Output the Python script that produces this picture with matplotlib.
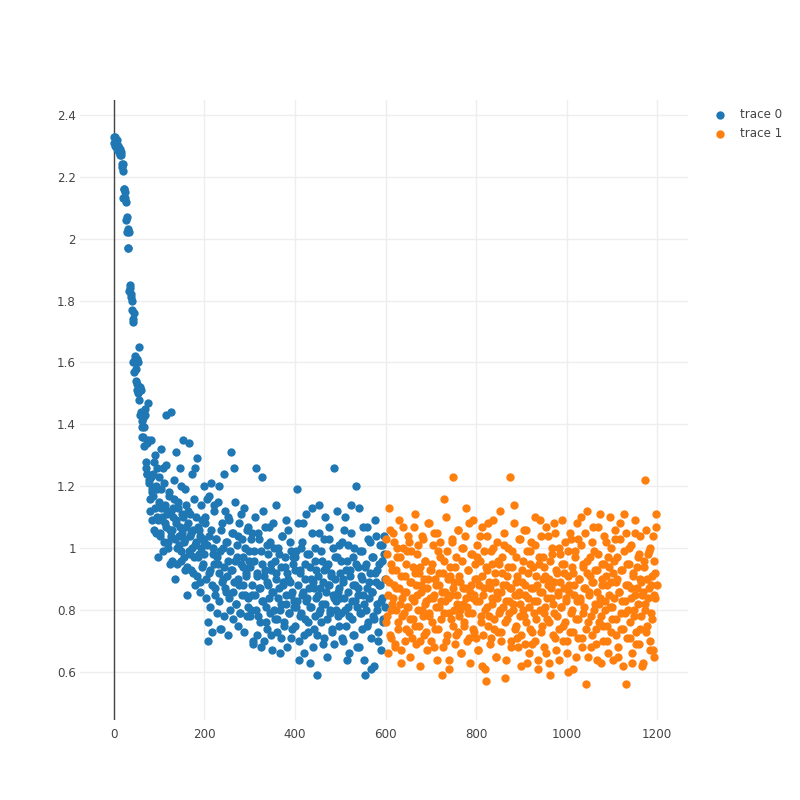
import numpy as np
import matplotlib.pyplot as plt

plt.rcParams['font.family'] = ['DejaVu Sans']

# trace 0, even x = 0..598
trace0_y_even = [
    2.31, 2.33, 2.30, 2.32, 2.29, 2.30, 2.28, 2.29, 2.27, 2.24,
    2.22, 2.16, 2.15, 2.12, 2.07, 2.03, 1.97, 2.02, 1.84, 1.82,
    1.80, 1.74, 1.76, 1.62, 1.58, 1.53, 1.61, 1.50, 1.65, 1.52,
    1.44, 1.36, 1.42, 1.39, 1.45, 1.28, 1.34, 1.24, 1.47, 1.22,
    1.12, 1.35, 1.18, 1.24, 1.06, 1.30, 1.20, 1.10, 1.26, 0.97,
    1.15, 1.05, 1.32, 1.10, 0.99, 1.21, 1.08, 1.27, 1.43, 1.12,
    1.02, 1.18, 0.95, 1.44, 1.06, 1.13, 1.22, 0.90, 1.09, 1.31,
    1.00, 1.15, 1.04, 1.26, 0.96, 1.11, 1.35, 1.02, 0.93, 1.19,
    1.07, 0.85, 1.12, 1.34, 0.98, 1.05, 1.24, 0.92, 1.16, 1.01,
    0.88, 1.10, 1.29, 0.97, 1.06, 0.86, 1.14, 0.94, 1.03, 1.20,
    0.98, 1.08, 0.90, 1.16, 0.70, 1.04, 0.93, 1.21, 0.88, 1.00,
    0.95, 1.12, 0.85, 1.03, 0.97, 1.15, 0.92, 0.74, 1.06, 0.89,
    1.00, 0.94, 1.24, 0.87, 1.02, 0.91, 1.10, 0.84, 0.99, 1.31,
    0.93, 1.05, 0.86, 1.26, 0.96, 0.82, 1.01, 0.90, 1.08, 0.79,
    0.95, 1.03, 0.88, 0.97, 1.13, 0.85, 0.92, 1.06, 0.81, 0.99,
    0.94, 0.80, 1.05, 0.88, 0.70, 0.99, 0.85, 1.26, 0.92, 0.78,
    1.03, 0.87, 0.68, 0.95, 1.23, 0.83, 0.91, 1.07, 0.76, 0.89,
    0.98, 0.84, 1.02, 0.72, 0.93, 0.86, 1.08, 0.80, 0.96, 0.90,
    0.77, 1.00, 0.87, 0.66, 0.94, 0.82, 1.04, 0.88, 0.75, 0.97,
    0.85, 0.92, 1.06, 0.79, 0.89, 0.99, 0.71, 0.86, 0.95, 0.83,
    0.97, 0.81, 1.19, 0.88, 0.64, 0.93, 0.78, 1.00, 0.85, 1.08,
    0.72, 0.90, 0.83, 0.98, 0.76, 0.87, 0.63, 0.94, 0.81, 1.13,
    0.89, 0.74, 0.96, 0.84, 0.59, 0.91, 1.05, 0.79, 0.87, 0.99,
    0.82, 0.69, 0.93, 1.10, 0.86, 0.77, 0.95, 0.88, 1.03, 0.80,
    0.92, 0.73, 0.85, 1.26, 0.90, 0.83, 0.97, 0.78, 1.01, 0.87,
    0.84, 0.96, 0.71, 0.89, 1.06, 0.80, 0.93, 0.64, 0.86, 1.01,
    0.78, 0.91, 1.14, 0.83, 0.97, 0.72, 0.88, 1.20, 0.81, 0.94,
    0.85, 0.68, 0.99, 0.79, 0.90, 1.07, 0.82, 0.59, 0.95, 0.87,
    0.75, 1.03, 0.84, 0.92, 0.61, 0.86, 0.97, 0.77, 1.09, 0.89,
    0.80, 0.93, 0.70, 0.88, 1.01, 0.83, 0.96, 0.76, 1.04, 0.90,
]

# trace 0, odd x = 1..599
trace0_y_odd = [
    2.33, 2.30, 2.31, 2.29, 2.30, 2.28, 2.27, 2.28, 2.23, 2.24,
    2.13, 2.16, 2.13, 2.06, 2.02, 1.97, 1.83, 1.85, 1.81, 1.77,
    1.73, 1.60, 1.57, 1.61, 1.54, 1.51, 1.60, 1.48, 1.43, 1.51,
    1.39, 1.41, 1.36, 1.33, 1.43, 1.26, 1.24, 1.35, 1.21, 1.16,
    1.23, 1.19, 1.09, 1.17, 1.28, 1.13, 1.05, 1.19, 1.09, 1.23,
    1.04, 1.19, 1.13, 1.09, 1.26, 1.02, 1.14, 1.07, 1.11, 1.00,
    1.17, 1.06, 1.12, 1.04, 0.96, 1.10, 1.16, 1.03, 1.08, 0.95,
    1.13, 1.01, 1.07, 1.20, 0.99, 1.05, 1.10, 0.97, 1.03, 1.14,
    0.94, 1.08, 0.99, 1.04, 1.11, 0.93, 1.00, 1.06, 0.97, 1.26,
    1.02, 0.91, 1.07, 0.98, 1.04, 0.89, 1.00, 1.09, 0.95, 1.02,
    1.10, 0.84, 1.01, 0.76, 1.17, 0.92, 0.81, 1.06, 0.73, 0.98,
    1.14, 0.87, 1.03, 0.79, 0.95, 1.20, 0.83, 0.99, 0.74, 1.08,
    0.90, 0.78, 1.12, 0.86, 1.02, 0.72, 0.96, 1.09, 0.80, 0.93,
    1.05, 0.77, 0.89, 1.15, 0.82, 0.97, 0.75, 1.04, 0.88, 0.79,
    1.11, 0.85, 0.94, 0.73, 1.00, 0.91, 0.78, 1.07, 0.84, 0.96,
    0.78, 1.03, 0.85, 0.69, 0.96, 1.10, 0.80, 0.91, 0.72, 1.05,
    0.87, 0.76, 0.99, 0.83, 1.12, 0.70, 0.93, 0.81, 1.01, 0.74,
    0.88, 1.07, 0.79, 0.95, 0.67, 0.86, 1.00, 0.77, 0.92, 1.14,
    0.73, 0.84, 0.98, 0.80, 0.71, 1.04, 0.89, 0.76, 0.94, 0.82,
    1.09, 0.68, 0.90, 0.79, 1.02, 0.85, 0.74, 0.97, 0.81, 0.93,
    0.75, 0.99, 0.83, 1.08, 0.70, 0.92, 0.79, 1.02, 0.86, 0.66,
    0.95, 0.77, 1.11, 0.84, 0.73, 0.98, 0.81, 0.90, 1.05, 0.68,
    0.87, 0.78, 1.00, 0.93, 0.72, 0.85, 1.14, 0.80, 0.76, 0.96,
    0.89, 0.71, 1.03, 0.82, 0.94, 0.65, 0.88, 1.07, 0.79, 0.91,
    0.74, 1.00, 0.84, 0.69, 0.97, 0.80, 1.12, 0.86, 0.75, 0.92,
    0.79, 1.02, 0.70, 0.90, 0.84, 1.10, 0.75, 0.96, 0.81, 0.66,
    0.93, 1.05, 0.77, 0.88, 0.72, 1.00, 0.83, 0.95, 0.68, 0.87,
    1.13, 0.79, 0.91, 0.74, 0.99, 0.85, 0.64, 0.94, 0.80, 1.07,
    0.76, 0.89, 1.02, 0.71, 0.86, 0.97, 0.78, 0.62, 0.92, 1.04,
    0.82, 0.73, 0.95, 0.88, 0.67, 1.01, 0.84, 0.77, 0.98, 0.81,
]

# trace 1, even x = 600..1198
trace1_y_even = [
    0.90, 1.03, 0.78, 0.85, 1.13, 0.72, 0.95, 0.82, 1.05, 0.88,
    0.69, 0.93, 0.80, 1.00, 0.76, 0.87, 0.97, 0.67, 0.84, 1.07,
    0.79, 0.91, 0.74, 0.86, 0.99, 0.81, 1.02, 0.77, 0.89, 0.71,
    0.94, 0.83, 1.11, 0.75, 0.88, 0.98, 0.80, 0.92, 0.70, 0.86,
    1.04, 0.78, 0.90, 0.82, 0.96, 0.73, 0.87, 1.08, 0.79, 0.84,
    0.93, 0.76, 1.01, 0.85, 0.68, 0.90, 0.81, 1.05, 0.74, 0.88,
    0.97, 0.83, 0.59, 0.92, 1.16, 0.79, 0.86, 0.70, 0.99, 0.84,
    0.64, 0.91, 0.77, 1.02, 0.87, 1.23, 0.80, 0.94, 0.72, 0.85,
    1.06, 0.78, 0.89, 0.66, 0.96, 0.82, 1.00, 0.75, 0.87, 1.13,
    0.81, 0.93, 0.71, 0.86, 0.98, 0.79, 1.09, 0.84, 0.73, 0.90,
    0.83, 0.97, 0.67, 0.88, 1.04, 0.76, 0.91, 0.62, 0.85, 0.99,
    0.80, 0.57, 0.93, 1.08, 0.78, 0.87, 0.71, 0.95, 0.82, 1.00,
    0.74, 0.89, 0.65, 0.84, 0.96, 0.79, 1.12, 0.86, 0.73, 0.92,
    0.81, 1.01, 0.58, 0.88, 0.77, 0.94, 0.83, 1.23, 0.70, 0.87,
    0.99, 0.80, 1.14, 0.85, 0.75, 0.91, 0.68, 0.86, 1.03, 0.82,
    0.72, 0.89, 0.96, 0.78, 0.85, 1.06, 0.63, 0.92, 0.81, 0.99,
    0.74, 0.87, 0.69, 0.94, 0.83, 1.01, 0.77, 0.88, 0.61, 0.95,
    0.80, 1.09, 0.73, 0.86, 0.97, 0.79, 0.91, 0.66, 0.84, 1.04,
    0.76, 0.90, 0.59, 0.87, 0.98, 0.82, 1.08, 0.71, 0.93, 0.78,
    0.86, 1.00, 0.64, 0.89, 0.81, 0.95, 0.75, 0.92, 1.02, 0.84,
    0.70, 0.91, 0.60, 0.86, 1.05, 0.79, 0.94, 0.73, 0.88, 0.99,
    0.65, 0.83, 1.03, 0.77, 0.90, 0.84, 1.10, 0.71, 0.95, 0.81,
    0.87, 0.56, 0.92, 1.12, 0.76, 0.85, 0.97, 0.68, 0.89, 1.07,
    0.80, 0.93, 0.74, 0.86, 0.64, 0.98, 0.82, 1.11, 0.78, 0.90,
    0.70, 0.95, 0.83, 1.02, 0.75, 0.88, 0.66, 0.94, 0.81, 1.00,
    0.77, 0.92, 0.84, 1.06, 0.72, 0.89, 0.97, 0.65, 0.86, 1.03,
    0.79, 0.93, 0.74, 1.11, 0.83, 0.88, 0.56, 0.95, 0.80, 1.00,
    0.71, 0.87, 0.63, 0.91, 0.78, 1.05, 0.85, 0.69, 0.94, 0.82,
    0.98, 0.74, 0.89, 0.62, 0.86, 0.96, 0.80, 1.22, 0.73, 0.90,
    0.84, 0.99, 0.67, 0.88, 0.77, 1.04, 0.85, 0.65, 0.92, 1.11,
]

# trace 1, odd x = 601..1199
trace1_y_odd = [
    0.76, 0.98, 0.66, 0.89, 1.06, 0.80, 0.71, 0.93, 0.84, 1.02,
    0.68, 0.87, 0.97, 0.74, 1.09, 0.82, 0.63, 0.91, 0.78, 1.00,
    0.86, 0.70, 0.95, 0.81, 1.04, 0.73, 0.89, 0.65, 0.99, 0.84,
    0.77, 1.07, 0.92, 0.69, 0.85, 1.01, 0.75, 0.94, 0.62, 0.88,
    0.80, 1.03, 0.72, 0.96, 0.83, 0.67, 0.90, 1.08, 0.78, 0.93,
    0.70, 0.95, 0.84, 1.05, 0.74, 0.88, 0.64, 0.99, 0.81, 0.92,
    1.02, 0.77, 0.86, 0.68, 0.96, 0.83, 1.10, 0.72, 0.90, 0.79,
    0.61, 0.94, 0.85, 1.03, 0.75, 0.89, 0.69, 0.97, 0.82, 1.06,
    0.73, 0.91, 0.80, 0.66, 1.00, 0.87, 0.76, 1.04, 0.84, 0.70,
    0.93, 0.79, 1.08, 0.63, 0.88, 0.98, 0.74, 0.85, 0.95, 0.71,
    0.90, 1.01, 0.67, 0.83, 0.96, 0.78, 1.07, 0.72, 0.87, 0.61,
    0.94, 0.81, 1.04, 0.75, 0.89, 0.69, 0.99, 0.84, 1.09, 0.77,
    0.92, 0.65, 0.86, 1.02, 0.73, 0.95, 0.80, 0.70, 0.97, 0.88,
    1.05, 0.76, 0.83, 0.64, 0.91, 1.00, 0.79, 0.87, 0.68, 0.94,
    0.82, 1.08, 0.74, 0.89, 0.97, 0.71, 0.85, 1.03, 0.78, 0.62,
    0.93, 0.80, 1.06, 0.69, 0.88, 0.76, 0.99, 0.84, 0.66, 0.95,
    1.02, 0.73, 0.87, 0.79, 1.10, 0.70, 0.91, 0.83, 0.64, 0.97,
    0.86, 1.04, 0.75, 0.90, 0.68, 0.94, 0.81, 1.07, 0.77, 0.88,
    0.63, 0.96, 0.84, 1.00, 0.72, 0.89, 0.79, 1.05, 0.67, 0.92,
    0.85, 0.74, 0.98, 0.81, 1.09, 0.70, 0.87, 0.95, 0.76, 0.83,
    0.66, 0.99, 0.88, 0.73, 1.03, 0.80, 0.92, 0.61, 0.85, 0.97,
    0.77, 1.08, 0.71, 0.90, 0.83, 1.01, 0.68, 0.94, 0.79, 0.87,
    1.05, 0.74, 0.96, 0.65, 0.86, 0.91, 0.78, 1.02, 0.72, 0.89,
    0.99, 0.82, 0.69, 0.93, 1.07, 0.76, 0.84, 0.63, 0.95, 0.88,
    0.75, 1.04, 0.80, 0.91, 0.70, 0.97, 0.85, 1.10, 0.73, 0.89,
    0.81, 0.64, 0.96, 1.03, 0.77, 0.90, 0.68, 0.86, 1.08, 0.74,
    0.93, 0.83, 0.62, 0.99, 0.79, 1.05, 0.71, 0.88, 0.95, 0.76,
    1.01, 0.84, 0.66, 0.92, 0.80, 1.09, 0.73, 0.87, 0.97, 0.69,
    0.90, 1.04, 0.78, 0.85, 0.63, 0.94, 0.82, 1.06, 0.75, 0.98,
    0.87, 0.70, 1.00, 0.79, 0.91, 0.67, 0.96, 0.84, 1.07, 0.88,
]

trace0_x = np.concatenate([np.arange(0, 600, 2), np.arange(1, 600, 2)])
trace0_y = trace0_y_even + trace0_y_odd
trace1_x = np.concatenate([np.arange(600, 1200, 2), np.arange(601, 1200, 2)])
trace1_y = trace1_y_even + trace1_y_odd

x_ticks = [0, 200, 400, 600, 800, 1000, 1200]
y_ticks = [0.6, 0.8, 1, 1.2, 1.4, 1.6, 1.8, 2, 2.2, 2.4]
y_labels = ['0.6', '0.8', '1', '1.2', '1.4', '1.6', '1.8', '2', '2.2', '2.4']

fig = plt.figure(figsize=(8, 8), dpi=100)
ax = fig.add_axes([0.1, 0.1, 0.76, 0.775])

ax.scatter(trace0_x, trace0_y, s=36, color='#1f77b4', linewidths=0, zorder=3, label='trace 0')
ax.scatter(trace1_x, trace1_y, s=36, color='#ff7f0e', linewidths=0, zorder=3, label='trace 1')

# plotly style zero line
ax.axvline(0, color='#444444', lw=1, zorder=2)

ax.set_xlim(-75, 1268)
ax.set_ylim(0.445, 2.448)
ax.set_xticks(x_ticks)
ax.set_yticks(y_ticks)
ax.set_yticklabels(y_labels)
ax.grid(True, color='#eeeeee', lw=1, zorder=0)
ax.set_axisbelow(True)
for s in ax.spines.values():
    s.set_visible(False)
ax.tick_params(length=0, labelsize=8.6, labelcolor='#444444')
ax.tick_params(axis='x', pad=6)
ax.tick_params(axis='y', pad=3)

fig.legend(loc='upper left', bbox_to_anchor=(0.8795, 0.878), frameon=False,
           fontsize=8.6, labelcolor='#444444', handlelength=1.0,
           handletextpad=1.17, labelspacing=0.45)

fig.savefig('out.png', dpi=100, facecolor='white')
